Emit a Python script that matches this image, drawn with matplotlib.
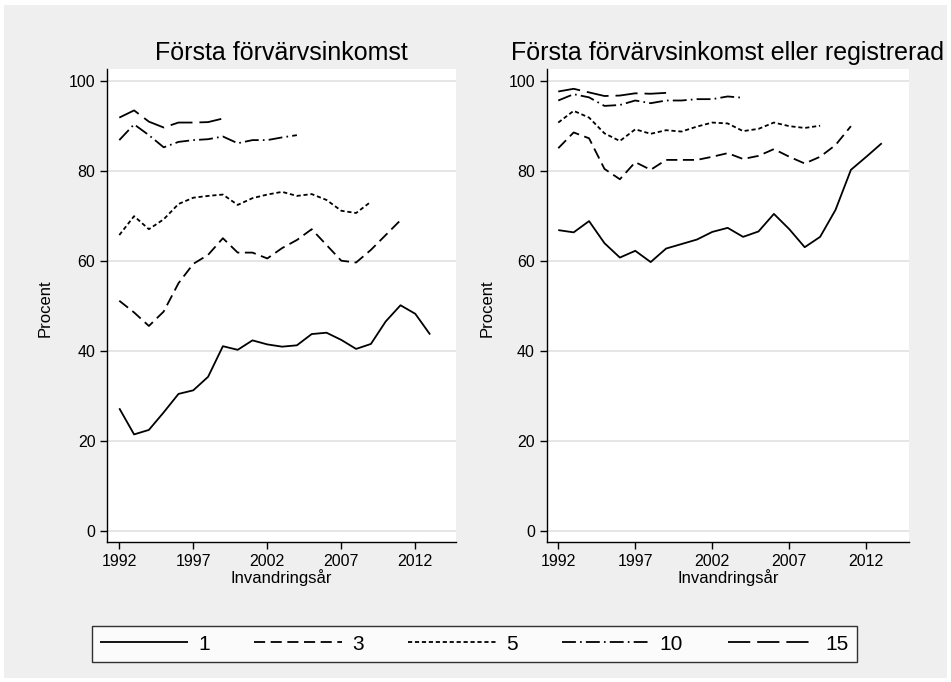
import matplotlib
matplotlib.use("Agg")
import matplotlib.pyplot as plt
from matplotlib.patches import Rectangle

plt.rcParams['font.family'] = ['Liberation Sans', 'DejaVu Sans']
plt.rcParams['lines.scale_dashes'] = False

# data (percent by year of immigration)
years = list(range(1992, 2014))

left_1 = [27.2, 21.4, 22.4, 26.3, 30.4, 31.2, 34.2, 41.0, 40.2, 42.3, 41.4,
          40.9, 41.2, 43.7, 44.0, 42.4, 40.4, 41.5, 46.5, 50.1, 48.2, 43.6]
left_3 = [51.1, 48.5, 45.5, 48.7, 55.0, 59.3, 61.3, 65.0, 61.8, 61.8, 60.5,
          62.8, 64.6, 67.0, 63.5, 60.0, 59.6, 62.4, 65.7, 69.0]
left_5 = [65.7, 69.9, 67.0, 69.2, 72.6, 74.0, 74.4, 74.7, 72.4, 73.9, 74.7,
          75.3, 74.4, 74.8, 73.5, 71.1, 70.6, 73.1]
left_10 = [86.8, 90.3, 87.9, 85.2, 86.4, 86.8, 87.0, 87.6, 86.1, 86.8, 86.8,
           87.4, 87.9]
left_15 = [91.8, 93.4, 90.9, 89.6, 90.7, 90.7, 90.8, 91.6]

right_1 = [66.8, 66.3, 68.8, 63.9, 60.7, 62.2, 59.7, 62.7, 63.7, 64.7, 66.4,
           67.3, 65.3, 66.5, 70.4, 67.0, 63.0, 65.3, 71.3, 80.2, 83.1, 86.1]
right_3 = [85.0, 88.5, 87.2, 80.4, 78.1, 81.9, 80.2, 82.4, 82.4, 82.4, 83.1,
           83.9, 82.6, 83.3, 84.8, 83.1, 81.6, 83.1, 85.7, 89.9]
right_5 = [90.7, 93.3, 91.8, 88.3, 86.6, 89.2, 88.2, 89.0, 88.7, 89.8, 90.7,
           90.5, 88.8, 89.3, 90.7, 89.9, 89.5, 90.0]
right_10 = [95.6, 97.0, 96.3, 94.4, 94.6, 95.6, 95.0, 95.6, 95.6, 95.9, 95.9,
            96.5, 96.2]
right_15 = [97.6, 98.2, 97.4, 96.6, 96.7, 97.2, 97.1, 97.3]

labels = ["1", "3", "5", "10", "15"]
titles = ["Första förvärvsinkomst", "Första förvärvsinkomst eller registrerad"]
x_ticks = [1992, 1997, 2002, 2007, 2012]
y_ticks = [0, 20, 40, 60, 80, 100]

styles = [
    (0, ()),
    (0, (8, 4)),
    (0, (3, 2)),
    (0, (10, 3, 1.2, 3)),
    (0, (16, 5)),
]

W, H = 951, 682
fig = plt.figure(figsize=(W / 100, H / 100), dpi=100, facecolor="white")
fig.patches.append(Rectangle((4 / W, 4 / H), 943 / W, 673 / H,
                             transform=fig.transFigure, facecolor="#efefef",
                             edgecolor="none", zorder=-10))


def px_axes(x0, x1, ytop, ybot):
    return fig.add_axes([x0 / W, (H - ybot) / H, (x1 - x0) / W, (ybot - ytop) / H])


panels = [
    (px_axes(107.3, 455.7, 69, 541.7), [left_1, left_3, left_5, left_10, left_15],
     (1991.19, 2014.73), 45),
    (px_axes(546.7, 909, 69, 541.7), [right_1, right_3, right_5, right_10, right_15],
     (1991.25, 2014.77), 487),
]

handles = []
for i, (ax, series, xlim, ylab_x) in enumerate(panels):
    ax.set_facecolor("white")
    for vals, ls, lab in zip(series, styles, labels):
        ln, = ax.plot(years[:len(vals)], vals, color="black", lw=1.3,
                      linestyle=ls, label=lab)
        if i == 0:
            handles.append(ln)
    ax.set_xlim(*xlim)
    ax.set_ylim(-2.44, 102.6)
    ax.set_xticks(x_ticks)
    ax.set_yticks(y_ticks)
    ax.grid(axis="y", color="#e4e4e4", lw=1.3)
    ax.set_axisbelow(True)
    for s in ["top", "right"]:
        ax.spines[s].set_visible(False)
    for s in ["left", "bottom"]:
        ax.spines[s].set_color("black")
        ax.spines[s].set_linewidth(1.0)
    ax.tick_params(axis="both", direction="out", length=5, width=1,
                   labelsize=11.5, colors="black")
    cx = (ax.get_position().x0 + ax.get_position().x1) / 2
    fig.text(cx, 1 - 53 / H, titles[i], ha="center", va="center", fontsize=18)
    fig.text(cx, 1 - 578 / H, "Invandringsår", ha="center", va="center",
             fontsize=12)
    fig.text(ylab_x / W, 1 - 308 / H, "Procent", rotation=90,
             ha="center", va="center", fontsize=12)

leg = fig.legend(handles, labels, loc="lower left", ncol=5, mode="expand",
                 bbox_to_anchor=(92 / W, (H - 662) / H, 765 / W, 43 / H),
                 borderaxespad=0, frameon=True, fancybox=False,
                 edgecolor="black", fontsize=15, handlelength=4.2,
                 handletextpad=0.5, columnspacing=1.5)
leg.get_frame().set_linewidth(1.0)

fig.savefig("out.png", dpi=100)
